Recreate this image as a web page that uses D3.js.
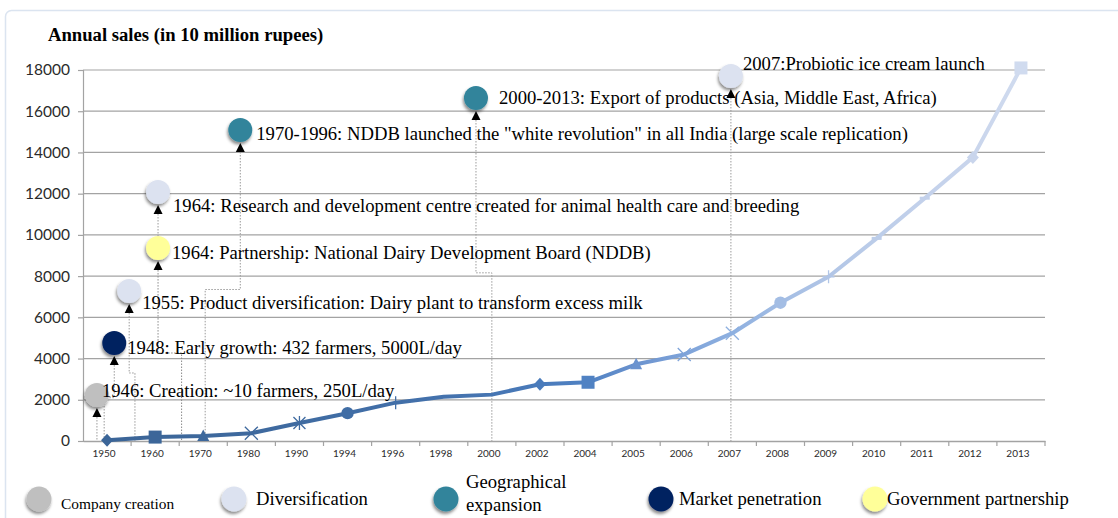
<!DOCTYPE html>
<html>
<head>
<meta charset="utf-8">
<script src="https://cdn.jsdelivr.net/npm/d3@7"></script>
<style>
  html, body { margin: 0; padding: 0; background: #ffffff; }
  svg { display: block; }
</style>
</head>
<body>
<svg id="chart" width="1118" height="518"></svg>
<script>
// ---------------- DATA ----------------
const years = ["1950","1960","1970","1980","1990","1994","1996","1998","2000","2002","2004","2005","2006","2007","2008","2009","2010","2011","2012","2013"];
const sales = [40, 190, 240, 380, 870, 1350, 1860, 2150, 2250, 2750, 2850, 3720, 4200, 5230, 6710, 7970, 9830, 11780, 13760, 18100];
const markerTypes = ["diamond","square","triangle","times","asterisk","circle","plus","none","none","diamond","square","triangle","times","times","circle","plus","dash","dash","diamond","square"];
const lineColors = ["#3b6598","#3c6699","#3d689c","#3e699e","#3f6ba1","#406da5","#426fa8","#4472ad","#4675b2","#4a7bbb","#5082c3","#6b93cf","#7ea3d9","#8eb0e0","#a3bde4","#b1c5e6","#bccde9","#c3d1eb","#c9d5ec","#d0dbef"];
const yTicks = [0, 2000, 4000, 6000, 8000, 10000, 12000, 14000, 16000, 18000];
const yTitle = "Annual sales (in 10 million rupees)";

// annotation milestones (anchor in category-index / value units)
const annoText = [
  "1946: Creation: ~10 farmers, 250L/day",
  "1948: Early growth: 432 farmers, 5000L/day",
  "1955: Product diversification: Dairy plant to transform excess milk",
  "1964: Partnership: National Dairy Development Board (NDDB)",
  "1964: Research and development centre created for animal health care and breeding",
  "1970-1996: NDDB launched the \"white revolution\" in all India (large scale replication)",
  "2000-2013: Export of products (Asia, Middle East, Africa)",
  "2007:Probiotic ice cream launch"
];
const annoCategory = ["creation","market","diversification","government","diversification","geo","geo","diversification"];
const annoIndex = [-0.21, 0.15, 0.46, 1.06, 1.06, 2.77, 7.67, 12.97];
const annoValue = [2230, 4750, 7280, 9360, 12080, 15090, 16640, 17710];
const annoElbowValue = [null, 2100, 3300, 4270, 9800, 7350, 8160, null];
const annoDropIndex = [-0.21, -0.06, 0.58, 1.55, null, 2.04, 8.0, 12.97];

const legendKeys = ["creation","diversification","geo","market","government"];
const legendLabels = [["Company creation"],["Diversification"],["Geographical","expansion"],["Market penetration"],["Government partnership"]];
const categoryColors = {creation:"#bfbfbf", diversification:"#dce2f0", geo:"#31849b", market:"#002060", government:"#ffff99"};

// ---------------- LAYOUT ----------------
const svg = d3.select("#chart");
const plotLeft = 83, plotRight = 1045, plotTop = 70, plotBottom = 441;
const serif = "'Liberation Serif','Times New Roman',serif";
const sans = "Lato,'Liberation Sans',sans-serif";

const x = d3.scaleBand().domain(years).range([plotLeft, plotRight]).padding(0);
const y = d3.scaleLinear().domain([0, 18000]).range([plotBottom, plotTop]);
const xIdx = d3.scaleLinear().domain([0, years.length - 1])
  .range([x(years[0]) + x.bandwidth()/2, x(years[years.length-1]) + x.bandwidth()/2]);

const defs = svg.append("defs");
const f = defs.append("filter").attr("id","shadow").attr("x","-50%").attr("y","-50%").attr("width","200%").attr("height","200%");
f.append("feDropShadow").attr("dx",-1).attr("dy",2.5).attr("stdDeviation",1.6).attr("flood-color","#000").attr("flood-opacity",0.45);

const grad = defs.append("linearGradient").attr("id","lineGrad").attr("gradientUnits","userSpaceOnUse")
  .attr("x1", xIdx(0)).attr("x2", xIdx(years.length-1)).attr("y1",0).attr("y2",0);
lineColors.forEach((c,i) => grad.append("stop").attr("offset", i/(years.length-1)).attr("stop-color", c));

// outer frame
svg.append("rect").attr("x",5.5).attr("y",10.5).attr("width",1130).attr("height",530)
  .attr("rx",6).attr("fill","none").attr("stroke","#dbe4f0").attr("stroke-width",1.5);

// title
svg.append("text").attr("x",48).attr("y",41).attr("font-family",serif).attr("font-weight","bold")
  .attr("font-size",18.67).attr("fill","#000").text(yTitle);

// gridlines
svg.append("g").selectAll("line").data(yTicks.filter(d=>d>0)).join("line")
  .attr("x1",plotLeft).attr("x2",plotRight).attr("y1",d=>y(d)).attr("y2",d=>y(d))
  .attr("stroke","#a3a3a3").attr("stroke-width",1.2);

// y axis
const yAxis = svg.append("g").attr("transform",`translate(${plotLeft},0)`)
  .call(d3.axisLeft(y).tickValues(yTicks).tickSize(5).tickFormat(d3.format("d")));
yAxis.select(".domain").attr("stroke","#a3a3a3").attr("stroke-width",1.2);
yAxis.selectAll(".tick line").attr("stroke","#a3a3a3").attr("stroke-width",1.2);
yAxis.selectAll("text").attr("font-family",sans).attr("font-size",15.5).attr("fill","#2b2b2b").attr("x",-13);

// x axis
const xAxis = svg.append("g").attr("transform",`translate(0,${plotBottom})`)
  .call(d3.axisBottom(x).tickSize(0).tickPadding(9));
xAxis.select(".domain").attr("stroke","#a3a3a3").attr("stroke-width",1.5);
xAxis.selectAll("text").attr("font-family",sans).attr("font-size",10).attr("fill","#2b2b2b").attr("dx",-3);
// tick marks at band boundaries
svg.append("g").selectAll("line").data(years.slice(1).concat(["__end"])).join("line")
  .attr("x1",(d,i)=> i < years.length-1 ? x(d) : plotRight)
  .attr("x2",(d,i)=> i < years.length-1 ? x(d) : plotRight)
  .attr("y1",plotBottom).attr("y2",plotBottom+5).attr("stroke","#a3a3a3").attr("stroke-width",1.2);

// ---------------- connectors ----------------
const conn = svg.append("g");
annoText.forEach((t,i) => {
  const bx = xIdx(annoIndex[i]);
  const by = y(annoValue[i]);
  const top = by + 22;
  let pts;
  if (annoDropIndex[i] === null) {
    pts = [[bx, top], [bx, y(annoElbowValue[i])]];
  } else if (annoElbowValue[i] === null) {
    pts = [[bx, top], [bx, plotBottom]];
  } else {
    const ey = y(annoElbowValue[i]);
    const dx = xIdx(annoDropIndex[i]);
    pts = [[bx, top],[bx, ey],[dx, ey],[dx, plotBottom]];
  }
  conn.append("path").attr("d", d3.line()(pts)).attr("fill","none")
    .attr("stroke", i===3 ? "#8a8a8a" : "#9a9a9a").attr("stroke-width",1)
    .attr("stroke-dasharray","1.5,1.5");
});

// ---------------- line ----------------
svg.append("path").datum(sales)
  .attr("d", d3.line().x((d,i)=>xIdx(i)).y(d=>y(d)))
  .attr("fill","none").attr("stroke","url(#lineGrad)").attr("stroke-width",4)
  .attr("stroke-linejoin","round").attr("stroke-linecap","round");

// markers
function markerPath(type){
  switch(type){
    case "diamond": return "M0,-6.5L6,0L0,6.5L-6,0Z";
    case "square": return "M-6.5,-6.5H6.5V6.5H-6.5Z";
    case "triangle": return "M0,-6.5L6,5L-6,5Z";
    case "circle": return d3.symbol(d3.symbolCircle, 120)();
    default: return null;
  }
}
function strokePath(type){
  switch(type){
    case "times": return "M-6.5,-6.5L6.5,6.5M-6.5,6.5L6.5,-6.5";
    case "asterisk": return "M-6,-6L6,6M-6,6L6,-6M0,-7V7";
    case "plus": return "M-6,0H6M0,-6.5V6.5";
    case "dash": return "M-5,0H5";
    default: return null;
  }
}
const mk = svg.append("g");
sales.forEach((v,i) => {
  const t = markerTypes[i];
  const g = mk.append("g").attr("transform",`translate(${xIdx(i)},${y(v)})`);
  const fp = markerPath(t), sp = strokePath(t);
  if (fp) g.append("path").attr("d",fp).attr("fill",lineColors[i]);
  if (sp) g.append("path").attr("d",sp).attr("fill","none").attr("stroke",lineColors[i]).attr("stroke-width", t==="dash"?3:1.3);
});

// ---------------- bubbles, arrows, labels ----------------
const textDx = [5, 13, 13, 14, 15, 16, 23, 12];
const textDy = [-5, 4, 12, 4, 13, 3, -1, -13];
const ann = svg.append("g");
annoText.forEach((t,i) => {
  const bx = xIdx(annoIndex[i]);
  const by = y(annoValue[i]);
  ann.append("path").attr("d", d3.line()([[bx, by+13],[bx+4.5, by+22],[bx-4.5, by+22]]) + "Z").attr("fill","#000");
  ann.append("circle").attr("cx",bx).attr("cy",by).attr("r",12)
    .attr("fill",categoryColors[annoCategory[i]]).attr("filter","url(#shadow)");
});
annoText.forEach((t,i) => {
  const bx = xIdx(annoIndex[i]);
  const by = y(annoValue[i]);
  ann.append("text").attr("x",bx+textDx[i]).attr("y",by+textDy[i]).attr("dy","0.35em")
    .attr("font-family",serif).attr("font-size",18.67).attr("fill","#000").text(t);
});

// ---------------- legend ----------------
const legendX = [39, 234, 446, 661, 875];
const legendTextX = [61, 256, 466, 679, 887];
const legendFont = [15.4, 18.67, 18.67, 18.67, 18.67];
const leg = svg.append("g");
legendKeys.forEach((k,i) => {
  leg.append("circle").attr("cx",legendX[i]).attr("cy",499).attr("r",12.5)
    .attr("fill",categoryColors[k]).attr("filter","url(#shadow)");
  const lines = legendLabels[i];
  lines.forEach((l,j) => {
    const cy = lines.length === 1 ? (i===0 ? 504 : 498) : (j===0 ? 481 : 504);
    leg.append("text").attr("x",legendTextX[i]).attr("y",cy).attr("dy","0.35em")
      .attr("font-family",serif).attr("font-size",legendFont[i]).attr("fill","#000").text(l);
  });
});
</script>
</body>
</html>
